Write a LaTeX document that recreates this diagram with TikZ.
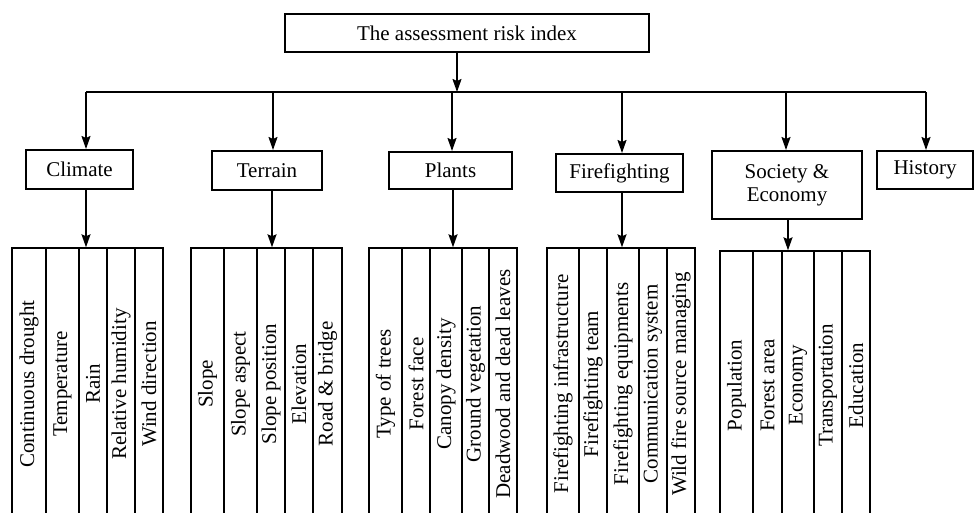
\documentclass[tikz,border=0pt]{standalone}
\usepackage{fontspec}
\setmainfont{Liberation Serif}
\usetikzlibrary{arrows.meta}
\begin{document}
\begin{tikzpicture}[x=1pt,y=-1pt,
  txt/.style={font=\fontsize{21}{23}\selectfont},
  box/.style={txt, draw, line width=2pt, inner sep=0pt, align=center},
  col/.style={txt, draw, line width=1.4pt, rotate=90, inner sep=0pt, minimum width=272pt},
  link/.style={line width=1.6pt},
  arr/.style={link, -{Stealth[length=13pt,width=9pt,inset=2pt]}}]
\useasboundingbox (0,0) rectangle (975,512);

% top level and the six categories
\node[box, minimum width=364pt, minimum height=38pt] (root) at (467,33) {The assessment risk index};
\node[box, minimum width=107pt, minimum height=39pt] (climate) at (79.5,169.5) {Climate};
\node[box, minimum width=110pt, minimum height=39pt] (terrain) at (267,170.5) {Terrain};
\node[box, minimum width=123pt, minimum height=37pt] (plants) at (450.5,170.5) {Plants};
\node[box, minimum width=127pt, minimum height=38pt] (fire) at (619.5,173) {Firefighting};
\node[box, minimum width=150pt, minimum height=68pt] (society) at (787,185) {Society \&\\Economy};
\node[box, minimum width=96pt, minimum height=38pt] (history) at (925,170) {History};

% distribution bus
\coordinate (bus0) at (457,92);
\coordinate (bus1) at (86,92);
\coordinate (bus2) at (273,92);
\coordinate (bus3) at (452,92);
\coordinate (bus4) at (622,92);
\coordinate (bus5) at (786,92);
\coordinate (bus6) at (926,92);
\draw[link] (bus1) -- (bus6);
\draw[arr] (bus0 |- root.south) -- (bus0);
\foreach \b/\n in {1/climate,2/terrain,3/plants,4/fire,5/society,6/history}
  \draw[arr] (bus\b) -- (bus\b |- \n.north);

% indicator columns (open at the bottom edge)
\foreach \l/\r/\t [count=\i] in {12/46/Continuous drought,46/79/Temperature,79/107/Rain,107/135/Relative humidity,135/163/Wind direction}
  \node[col, minimum height={(\r-\l)*1pt}] (cl\i) at ({(\l+\r)/2},384) {\t};
\foreach \l/\r/\t [count=\i] in {191/224/Slope,224/257/Slope aspect,257/285/Slope position,285/313/Elevation,313/342/Road \& bridge}
  \node[col, minimum height={(\r-\l)*1pt}] (te\i) at ({(\l+\r)/2},384) {\t};
\foreach \l/\r/\t [count=\i] in {369/402/Type of trees,402/430/Forest face,430/462/Canopy density,462/489/Ground vegetation,489/517/Deadwood and dead leaves}
  \node[col, minimum height={(\r-\l)*1pt}] (pl\i) at ({(\l+\r)/2},384) {\t};
\foreach \l/\r/\t [count=\i] in {547/579/Firefighting infrastructure,579/607/Firefighting team,607/639/Firefighting equipments,639/667/Communication system,667/695/Wild fire source managing}
  \node[col, minimum height={(\r-\l)*1pt}] (ff\i) at ({(\l+\r)/2},384) {\t};
\foreach \l/\r/\t [count=\i] in {720/753/Population,753/782/Forest area,782/814/Economy,814/842/Transportation,842/870/Education}
  \node[col, minimum height={(\r-\l)*1pt}, minimum width=269pt] (se\i) at ({(\l+\r)/2},385.5) {\t};

% arrows from each category into its columns
\coordinate (dcl) at (86,0);
\coordinate (dte) at (272,0);
\coordinate (dpl) at (453,0);
\coordinate (dff) at (622,0);
\coordinate (dse) at (788,0);
\draw[arr] (dcl |- climate.south) -- (dcl |- cl3.east);
\draw[arr] (dte |- terrain.south) -- (dte |- te3.east);
\draw[arr] (dpl |- plants.south) -- (dpl |- pl3.east);
\draw[arr] (dff |- fire.south) -- (dff |- ff3.east);
\draw[arr] (dse |- society.south) -- (dse |- se3.east);
\end{tikzpicture}
\end{document}
